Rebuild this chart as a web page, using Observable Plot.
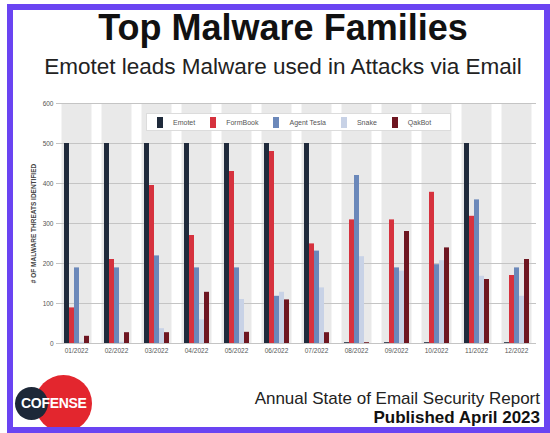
<!DOCTYPE html>
<html>
<head>
<meta charset="utf-8">
<script src="https://cdn.jsdelivr.net/npm/d3@7"></script>
<script src="https://cdn.jsdelivr.net/npm/@observablehq/plot@0.6"></script>
<style>
  html, body { margin: 0; padding: 0; background: #fff; }
  #wrap { position: relative; width: 550px; height: 433px; overflow: hidden; font-family: "Liberation Sans", Arial, sans-serif; }
  #border { position: absolute; left: 7px; top: 4px; width: 531px; height: 417px; border: 6px solid #6a44f2; box-sizing: content-box; }
  .txt { position: absolute; white-space: nowrap; line-height: 1; color: #111; }
  #title { left: 0; width: 566px; text-align: center; top: 10px; font-size: 36px; font-weight: bold; }
  #subtitle { left: 0; width: 566px; text-align: center; top: 56px; font-size: 22.5px; color: #222; }
  #chart { position: absolute; left: 0; top: 95px; }
  #legend { position: absolute; left: 146px; top: 113px; width: 305px; height: 18px; background: #fff; border: 1px solid #dcdcdc; box-sizing: border-box; display: flex; align-items: center; padding-left: 10px; font-size: 7px; color: #555; }
  #legend .item { display: flex; align-items: center; margin-right: 15px; }
  #legend .sw { width: 6px; height: 11px; margin-right: 10px; }
  #foot1 { right: 10px; top: 390px; font-size: 17px; color: #222; }
  #foot2 { right: 10px; top: 409px; font-size: 17px; font-weight: bold; }
  .circle { position: absolute; border-radius: 50%; }
  #logoText { position: absolute; left: 21px; top: 396px; font-size: 14px; font-weight: bold; color: #fff; line-height: 1; letter-spacing: -0.3px; }
</style>
</head>
<body>
<div id="wrap">
  <div class="txt" id="title">Top Malware Families</div>
  <div class="txt" id="subtitle">Emotet leads Malware used in Attacks via Email</div>
  <div id="chart"></div>
  <div id="legend"></div>
  <div class="circle" style="left:35px; top:375px; width:57px; height:57px; background:#e3262e;"></div>
  <div class="circle" style="left:15px; top:387px; width:33px; height:33px; background:#1d2838;"></div>
  <div id="logoText">COFENSE</div>
  <div class="txt" id="foot1">Annual State of Email Security Report</div>
  <div class="txt" id="foot2">Published April 2023</div>
  <div id="border"></div>
</div>
<script>
const months = ["01/2022","02/2022","03/2022","04/2022","05/2022","06/2022","07/2022","08/2022","09/2022","10/2022","11/2022","12/2022"];
const series = ["Emotet","FormBook","Agent Tesla","Snake","QakBot"];
const seriesColors = ["#1f2a3b","#d6323e","#6b88ba","#c8d2e6","#6e1621"];
const emotet     = [500,500,500,500,500,500,500,2,2,2,500,2];
const formbook   = [89,210,395,270,430,480,249,309,309,378,318,170];
const agentTesla = [189,189,219,189,189,118,231,420,189,197,359,189];
const snake      = [3,3,37,59,110,128,139,217,181,207,168,118];
const qakbot     = [18,27,27,128,28,109,27,2,280,239,160,210];
const yTicks     = [0,100,200,300,400,500,600];

const seriesValues = [emotet, formbook, agentTesla, snake, qakbot];
const data = months.flatMap((m, i) => series.map((s, j) => ({month: m, series: s, value: seriesValues[j][i]})));

const chart = Plot.plot({
  width: 550,
  height: 265,
  marginTop: 8,
  marginBottom: 17,
  marginLeft: 55,
  marginRight: 14,
  style: {fontFamily: "'Liberation Sans', Arial, sans-serif", fontSize: "6.5px", color: "#555", background: "transparent", overflow: "visible"},
  fx: {domain: months, padding: 0, label: null, tickSize: 0, tickPadding: 5},
  x: {domain: series, axis: null, paddingInner: 0, paddingOuter: 1.2},
  y: {domain: [0, 600], ticks: yTicks, tickSize: 0, tickPadding: 3, label: "# OF MALWARE THREATS IDENTIFIED", labelAnchor: "center", labelArrow: "none", labelOffset: 25},
  color: {domain: series, range: seriesColors},
  marks: [
    Plot.frame({fill: "#e9e9e9", stroke: null, insetLeft: 5, insetRight: 5}),
    Plot.gridY(yTicks, {stroke: "#c4c4c4", strokeOpacity: 1}),
    Plot.barY(data, {fx: "month", x: "series", y: "value", fill: "series"})
  ]
});
document.getElementById("chart").appendChild(chart);
d3.select(chart).selectAll('g[aria-label="y-axis label"] text').attr("font-weight", "bold").attr("fill", "#444");

const legend = d3.select("#legend");
series.forEach((s, i) => {
  const it = legend.append("div").attr("class", "item");
  it.append("div").attr("class", "sw").style("background", seriesColors[i]);
  it.append("span").text(s);
});
</script>
</body>
</html>
